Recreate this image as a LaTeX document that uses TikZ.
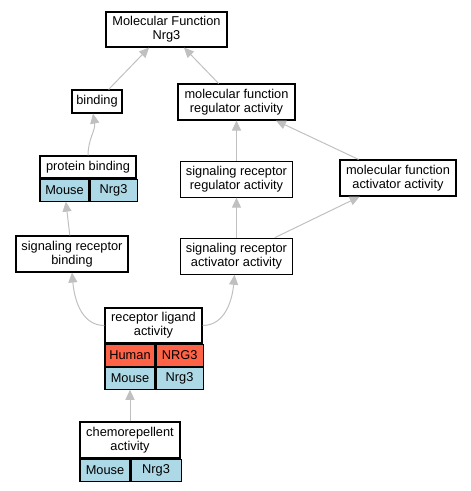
\documentclass[tikz,border=0pt]{standalone}
\usepackage{fontspec}
\setmainfont{Liberation Sans}
\usetikzlibrary{arrows.meta,positioning}
\definecolor{mouseblue}{HTML}{ADD8E6}
\definecolor{humanred}{HTML}{FF6347}
\definecolor{edgegray}{HTML}{C0C0C0}
\begin{document}
\begin{tikzpicture}[x=1pt,y=1pt,>={Triangle[length=10pt,width=9pt]}]
	\tikzstyle{every node}=[font=\fontsize{12.8pt}{14pt}\selectfont, inner sep=0pt]
	\tikzstyle{term}=[draw, line width=1.1pt, fill=white, align=center, minimum height=36pt]
	\tikzstyle{cell}=[draw, line width=1.1pt, minimum height=22pt, anchor=north west]
	\tikzstyle{mouse}=[cell, fill=mouseblue]
	\tikzstyle{human}=[cell, fill=humanred]

	\useasboundingbox (0,0) rectangle (471,-491);

	\node[term, minimum width=121pt, minimum height=35pt] (mf) at (166.5,-29.5) {Molecular Function\\Nrg3};
	\node[term, minimum width=50pt, minimum height=23pt] (bind) at (97,-101.5) {binding};
	\node[term, minimum width=117pt] (mfra) at (236.5,-102) {molecular function\\regulator activity};
	\node[term, minimum width=112pt] (srra) [below=40pt of mfra] {signaling receptor\\regulator activity};
	\node[term, minimum width=116pt] (mfaa) at (398,-178) {molecular function\\activator activity};
	\node[term, minimum width=112pt] (sraa) [below=40pt of srra] {signaling receptor\\activator activity};
	\node[term, minimum width=112pt] (srb) at (72,-254) {signaling receptor\\binding};

	% protein binding
	\node[term, minimum width=96pt, minimum height=22pt] (pb) at (88,-167) {protein binding};
	\node[mouse, minimum width=49pt] (pbm) at (pb.south west) {Mouse};
	\node[mouse, minimum width=47pt] (pbn) at (pbm.north east) {Nrg3};

	% receptor ligand activity
	\node[term, minimum width=97pt, minimum height=35pt] (rla) at (153.5,-325.5) {receptor ligand\\activity};
	\node[human, minimum width=50pt] (rlah) at (rla.south west) {Human};
	\node[human, minimum width=47pt] (rlahn) at (rlah.north east) {NRG3};
	\node[mouse, minimum width=50pt] (rlam) at (rlah.south west) {Mouse};
	\node[mouse, minimum width=47pt] (rlamn) at (rlam.north east) {Nrg3};

	% chemorepellent activity
	\node[term, minimum width=100pt] (chemo) at (130,-440) {chemorepellent\\activity};
	\node[mouse, minimum width=50pt] (chm) at (chemo.south west) {Mouse};
	\node[mouse, minimum width=50pt] (chn) at (chm.north east) {Nrg3};

	\path[->, color=edgegray, line width=1pt]
	% top level
	(bind) edge (mf)
	(mfra) edge (mf)
	% binding branch
	(pb.north) edge[out=90,in=-80] ([xshift=-4pt]bind.south)
	(srb) edge (pbm)
	% regulator branch
	(srra) edge (mfra)
	(mfaa) edge (mfra)
	(sraa) edge (srra)
	(sraa) edge (mfaa)
	% receptor ligand
	(rla.west) edge[out=180,in=-85] (srb.south)
	(rla.east) edge[out=0,in=-95] ([xshift=-2pt]sraa.south)
	(chemo.north) edge (rlam.south)
	;
\end{tikzpicture}
\end{document}
